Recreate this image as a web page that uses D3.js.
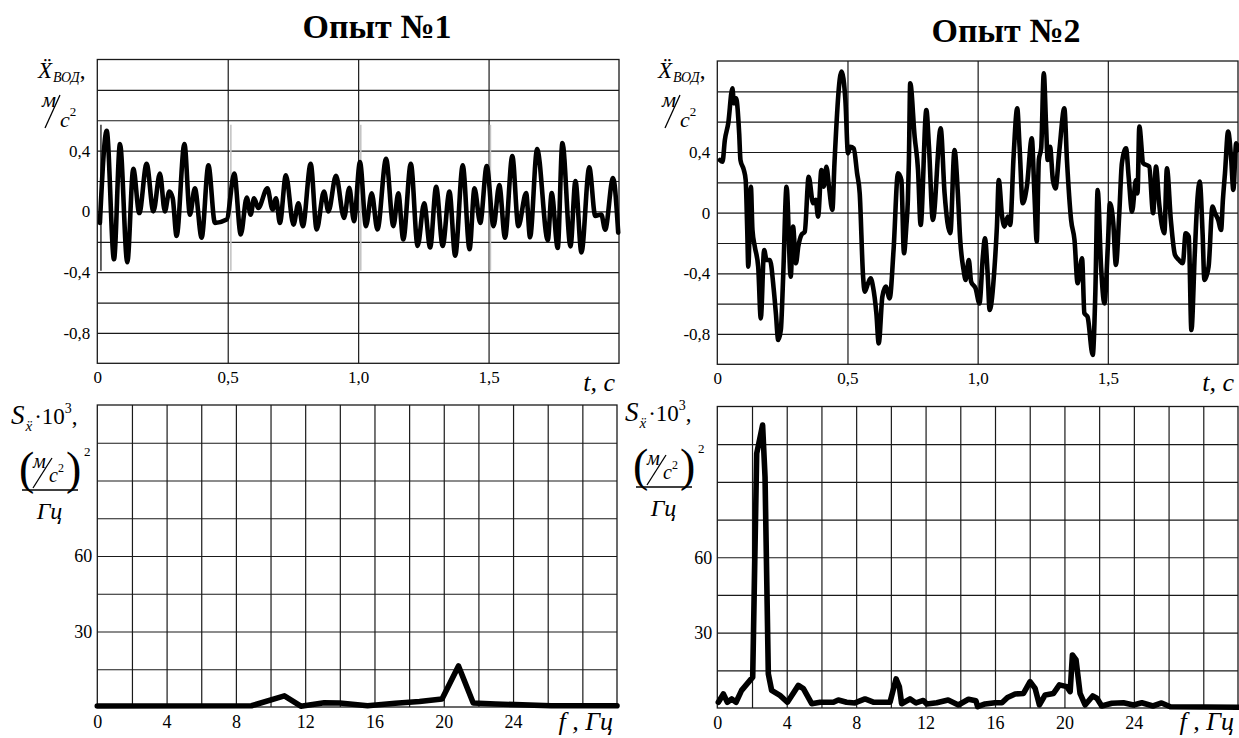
<!DOCTYPE html>
<html>
<head>
    <meta charset="utf-8">
    <title>Опыт №1 / Опыт №2</title>
    <script src="https://cdn.jsdelivr.net/npm/d3@7"></script>
    <style>
        body { margin: 0; background: #fff; }
        svg text { font-family: 'Liberation Serif', 'Times New Roman', serif; fill: #000; }
    </style>
</head>
<body>
<svg width="1239" height="738"></svg>
<script>
// ticks
const timeTicks = [0, 0.5, 1.0, 1.5]
const accelTicks = [0.4, 0, -0.4, -0.8]
const freqTicks = [0, 4, 8, 12, 16, 20, 24]
const specTicks = [60, 30]

// experiment 1, acceleration vs time
const exp1Time = [0.010, 0.036, 0.064, 0.087, 0.115, 0.138, 0.161, 0.189, 0.215, 0.240, 0.259, 0.276, 0.289, 0.304,
    0.334, 0.355, 0.374, 0.400, 0.426, 0.451, 0.496, 0.525, 0.550, 0.573, 0.588, 0.601, 0.617, 0.652, 0.672, 0.685,
    0.700, 0.723, 0.752, 0.771, 0.788, 0.818, 0.841, 0.869, 0.886, 0.915, 0.946, 0.966, 0.984, 1.007, 1.030, 1.052,
    1.074, 1.107, 1.135, 1.154, 1.173, 1.202, 1.228, 1.253, 1.276, 1.299, 1.324, 1.350, 1.372, 1.401, 1.427, 1.446,
    1.468, 1.493, 1.519, 1.541, 1.563, 1.591, 1.614, 1.644, 1.659, 1.686, 1.727, 1.742, 1.765, 1.783, 1.814, 1.833,
    1.856, 1.886, 1.909, 1.932, 1.947, 1.977, 1.997]
const exp1Accel = [-0.076, 0.53, -0.315, 0.444, -0.335, 0.281, -0.011, 0.314, 0.0, 0.249, 0.0, 0.13, 0.087, -0.162,
    0.444, -0.022, 0.152, -0.173, 0.303, -0.076, -0.054, 0.249, -0.152, 0.091, -0.022, 0.087, 0.022, 0.152, 0.011, 0.087,
    -0.076, 0.238, -0.087, 0.054, -0.097, 0.314, -0.119, 0.13, 0.0, 0.234, -0.043, 0.156, -0.065, 0.325, -0.097, 0.119,
    -0.119, 0.346, -0.097, 0.119, -0.184, 0.314, -0.227, 0.054, -0.238, 0.162, -0.227, 0.13, -0.292, 0.303, -0.249, 0.152,
    -0.076, 0.299, -0.097, 0.173, -0.173, 0.364, -0.097, 0.12, -0.17, 0.41, -0.19, 0.12, -0.24, 0.45, -0.23, 0.20,
    -0.27, 0.29, -0.03, -0.02, -0.12, 0.22, -0.14]
// thin marker lines seen on the first record
const exp1MarkTime = [0.014, 0.512, 1.01, 1.507]
const exp1MarkRange = [0.57, -0.39]

// experiment 2, acceleration vs time
const exp2Time = [0.010, 0.020, 0.029, 0.042, 0.058, 0.064, 0.072, 0.084, 0.089, 0.102, 0.109, 0.115, 0.119, 0.129,
    0.135, 0.144, 0.157, 0.167, 0.180, 0.189, 0.202, 0.217, 0.225, 0.234, 0.244, 0.253, 0.266, 0.282, 0.291, 0.302,
    0.311, 0.323, 0.336, 0.351, 0.368, 0.378, 0.387, 0.400, 0.409, 0.419, 0.429, 0.442, 0.450, 0.477, 0.492, 0.502,
    0.511, 0.524, 0.537, 0.547, 0.560, 0.566, 0.579, 0.589, 0.598, 0.611, 0.620, 0.634, 0.647, 0.662, 0.677, 0.694,
    0.707, 0.717, 0.726, 0.732, 0.736, 0.741, 0.758, 0.771, 0.781, 0.803, 0.813, 0.828, 0.858, 0.873, 0.895, 0.911,
    0.924, 0.933, 0.946, 0.954, 0.966, 0.975, 0.992, 1.007, 1.020, 1.028, 1.039, 1.046, 1.065, 1.074, 1.081, 1.094,
    1.103, 1.116, 1.125, 1.138, 1.152, 1.161, 1.173, 1.189, 1.208, 1.218, 1.227, 1.235, 1.244, 1.254, 1.263, 1.269,
    1.278, 1.289, 1.299, 1.314, 1.333, 1.343, 1.359, 1.372, 1.384, 1.401, 1.410, 1.422, 1.442, 1.452, 1.461, 1.474,
    1.487, 1.500, 1.508, 1.521, 1.531, 1.544, 1.554, 1.570, 1.580, 1.593, 1.608, 1.614, 1.621, 1.636, 1.659, 1.674,
    1.685, 1.697, 1.717, 1.727, 1.742, 1.758, 1.773, 1.788, 1.799, 1.811, 1.821, 1.834, 1.844, 1.853, 1.864, 1.871,
    1.887, 1.902, 1.912, 1.924, 1.935, 1.942, 1.950, 1.962, 1.974, 1.982, 1.993, 2.0]
const exp2Accel = [0.347, 0.336, 0.479, 0.589, 0.820, 0.721, 0.754, 0.523, 0.347, 0.281, 0.215, -0.114, -0.356, 0.171,
    -0.114, -0.224, -0.356, -0.697, -0.246, -0.312, -0.312, -0.510, -0.664, -0.840, -0.774, -0.422, 0.171, -0.422, -0.092, -0.334,
    -0.224, -0.147, -0.125, 0.237, 0.062, 0.084, -0.026, 0.281, 0.171, 0.303, 0.171, 0.018, 0.325, 0.930, 0.743, 0.391,
    0.435, 0.424, 0.259, 0.127, -0.422, -0.521, -0.466, -0.433, -0.488, -0.664, -0.862, -0.554, -0.488, -0.565, -0.246, 0.259,
    0.215, -0.268, -0.092, 0.084, 0.347, 0.853, 0.501, 0.281, -0.081, 0.677, 0.435, -0.048, 0.556, 0.127, -0.136, 0.413,
    0.127, -0.180, -0.378, -0.444, -0.312, -0.455, -0.499, -0.598, -0.290, -0.169, -0.422, -0.642, -0.356, -0.092, 0.215, -0.026,
    -0.092, -0.026, -0.081, 0.369, 0.688, 0.435, 0.062, 0.171, 0.490, 0.127, -0.191, 0.347, 0.424, 0.919, 0.567, 0.347,
    0.435, 0.215, 0.160, 0.413, 0.688, 0.347, -0.048, -0.180, -0.466, -0.301, -0.664, -0.686, -0.938, -0.532, 0.149, -0.356,
    -0.598, -0.224, 0.062, -0.070, -0.345, -0.004, 0.325, 0.424, 0.237, 0.007, 0.215, 0.127, 0.567, 0.326, 0.304, -0.004,
    0.304, 0.062, -0.136, 0.293, -0.048, -0.279, -0.312, -0.334, -0.136, -0.158, -0.774, -0.268, 0.084, 0.205, -0.136, -0.444,
    -0.356, 0.04, -0.004, -0.048, -0.114, 0.084, 0.26, 0.535, 0.348, 0.15, 0.458, 0.414]

// spectral density, experiment 1
const exp1Freq = [0, 8.9, 10.8, 11.75, 13.1, 14.0, 15.6, 17.2, 18.6, 19.9, 20.85, 21.7, 23.0, 26.2, 30]
const exp1Spec = [0.4, 0.5, 4.4, 0.3, 1.7, 1.6, 0.5, 1.5, 2.2, 3.2, 16.3, 1.6, 1.2, 0.5, 0.5]

// spectral density, experiment 2
const exp2Freq = [0.06, 0.35, 0.58, 0.83, 1.08, 1.4, 2.04, 2.27, 2.61, 2.75, 2.94, 3.13, 3.61, 4.04, 4.67, 4.96, 5.44,
    5.92, 6.69, 6.97, 7.45, 7.93, 8.51, 8.99, 9.95, 10.3, 10.49, 10.62, 11.1, 11.45, 11.87, 12.07, 12.64, 13.3, 13.89,
    14.47, 14.9, 15.0, 15.43, 16.0, 16.4, 16.72, 17.16, 17.64, 18.02, 18.31, 18.56, 18.89, 19.37, 19.71, 20.14, 20.33,
    20.46, 20.67, 20.9, 21.19, 21.63, 21.87, 22.15, 22.73, 23.4, 23.98, 24.46, 25.1, 25.6, 26.1, 30]
const exp2Spec = [2.3, 5.6, 2.3, 3.6, 2.3, 7.0, 12.3, 101.3, 112.6, 92.0, 13.6, 7.0, 5.0, 2.3, 9.0, 7.7, 1.7,
    2.3, 2.3, 3.2, 2.3, 2.0, 3.6, 2.3, 2.3, 11.6, 8.4, 1.7, 3.6, 2.0, 3.0, 1.6, 2.1, 3.2, 1.2,
    3.5, 2.9, 0.5, 1.6, 2.1, 2.1, 4.2, 5.6, 5.8, 10.5, 7.8, 1.2, 5.2, 5.8, 9.2, 8.5, 6.5,
    21.1, 19.1, 5.8, 1.2, 4.8, 3.9, 0.8, 1.9, 2.1, 1.2, 2.1, 0.8, 2.0, 0.5, 0.3]

const titles = ['Опыт №1', 'Опыт №2']

const serif = "'Liberation Serif', 'Times New Roman', serif"
const svg = d3.select('svg')
const commaFmt = d => d === 0 ? '0' : d3.format('.1f')(d).replace('.', ',').replace('\u2212', '-')

function drawPanel(o) {
    const xScale = d3.scaleLinear().domain(o.xDomain).range([o.left, o.right])
    const yScale = d3.scaleLinear().domain(o.yDomain).range([o.bottom, o.top])
    const g = svg.append('g')
    const innerH = o.bottom - o.top
    const innerW = o.right - o.left

    g.append('g')
        .attr('transform', `translate(0, ${o.bottom})`)
        .call(d3.axisBottom(xScale).tickValues(o.xGrid).tickSize(-innerH).tickFormat(''))
    g.append('g')
        .attr('transform', `translate(${o.left}, 0)`)
        .call(d3.axisLeft(yScale).tickValues(o.yGrid).tickSize(-innerW).tickFormat(''))
    g.selectAll('.domain').remove()
    g.selectAll('.tick line').attr('stroke', '#1a1a1a').attr('stroke-width', 1.2)

    g.append('rect')
        .attr('x', o.left).attr('y', o.top)
        .attr('width', innerW).attr('height', innerH)
        .attr('fill', 'none').attr('stroke', '#1a1a1a').attr('stroke-width', 1.3)

    if (o.marks) {
        g.selectAll('line.mark')
            .data(o.marks)
            .join('line')
            .attr('class', 'mark')
            .attr('x1', d => xScale(d)).attr('x2', d => xScale(d))
            .attr('y1', yScale(o.markRange[0])).attr('y2', yScale(o.markRange[1]))
            .attr('stroke', (d, i) => i === 0 ? '#111' : '#c4c4c4')
            .attr('stroke-width', (d, i) => i === 0 ? 1.3 : 1.6)
    }

    const line = d3.line()
        .x(d => xScale(d[0]))
        .y(d => yScale(d[1]))
        .curve(o.curve)
    g.append('path')
        .datum(d3.zip(o.xs, o.ys))
        .attr('d', line)
        .attr('fill', 'none')
        .attr('stroke', '#000')
        .attr('stroke-width', o.strokeW)
        .attr('stroke-linejoin', 'round')
        .attr('stroke-linecap', 'round')

    const xLab = g.append('g')
        .attr('transform', `translate(0, ${o.bottom})`)
        .call(d3.axisBottom(xScale).tickValues(o.xTicks).tickSize(0).tickPadding(o.xPad).tickFormat(o.fmt))
    const yLab = g.append('g')
        .attr('transform', `translate(${o.left}, 0)`)
        .call(d3.axisLeft(yScale).tickValues(o.yTicks).tickSize(0).tickPadding(o.yPad).tickFormat(o.yFmt))
    for (const lab of [xLab, yLab]) {
        lab.select('.domain').remove()
        lab.attr('font-family', serif).attr('font-size', o.fontSize)
        lab.selectAll('text')
            .style('font-family', serif)
            .style('font-size', o.fontSize + 'px')
    }

    g.append('text')
        .attr('x', o.right - 4)
        .attr('y', o.unitY)
        .attr('text-anchor', 'end')
        .attr('font-style', 'italic')
        .attr('font-size', 26)
        .text(o.unit)
    return g
}

const tGrid = [0.5, 1.0, 1.5]
const aGrid = d3.range(-0.8, 0.81, 0.2)
const fGrid = d3.range(2, 30, 2)
const sGrid = d3.range(15, 120, 15)

const topPanels = [
    {left: 97.3, right: 619, top: 59.5, bottom: 363.3, xs: exp1Time, ys: exp1Accel, marks: exp1MarkTime},
    {left: 717.3, right: 1238, top: 61, bottom: 364.3, xs: exp2Time, ys: exp2Accel}
]
topPanels.forEach(p => drawPanel(Object.assign({
    xDomain: [0, 2], yDomain: [-1, 1], xGrid: tGrid, yGrid: aGrid,
    xTicks: timeTicks, yTicks: accelTicks, fmt: commaFmt, yFmt: commaFmt,
    xPad: 8, yPad: 7, fontSize: 17, strokeW: 4.6, curve: d3.curveMonotoneX,
    markRange: exp1MarkRange, unit: 't, c', unitY: 391
}, p)))

const bottomPanels = [
    {left: 97.3, right: 617, top: 405, bottom: 707, xs: exp1Freq, ys: exp1Spec},
    {left: 717.3, right: 1238, top: 406.5, bottom: 708, xs: exp2Freq, ys: exp2Spec}
]
bottomPanels.forEach(p => drawPanel(Object.assign({
    xDomain: [0, 30], yDomain: [0, 120], xGrid: fGrid, yGrid: sGrid,
    xTicks: freqTicks, yTicks: specTicks, fmt: d3.format('d'), yFmt: d3.format('d'),
    xPad: 8, yPad: 5, fontSize: 18, strokeW: 5.6, curve: d3.curveLinear,
    unit: 'f , Гц', unitY: 730
}, p)))

// titles
svg.selectAll('text.title')
    .data(titles)
    .join('text')
    .attr('class', 'title')
    .attr('x', (d, i) => i === 0 ? 377 : 1006)
    .attr('y', (d, i) => i === 0 ? 38 : 41.5)
    .attr('text-anchor', 'middle')
    .attr('font-weight', 'bold')
    .attr('font-size', 34)
    .text(d => d)

// y-axis label of the acceleration plots
function accelLabel(ox) {
    const g = svg.append('g').attr('transform', `translate(${ox}, 0)`)
    const t = g.append('text').attr('x', 38).attr('y', 78).attr('font-style', 'italic')
    t.append('tspan').attr('font-size', 23).text('X\u0308')
    t.append('tspan').attr('font-size', 14).attr('dy', 4).attr('dx', 1).text('ВОД')
    t.append('tspan').attr('font-size', 23).attr('dy', -4).attr('font-style', 'normal').text(',')
    g.append('text').attr('x', 42).attr('y', 107).attr('font-style', 'italic').attr('font-size', 22).text('м')
    g.append('line').attr('x1', 45).attr('y1', 128).attr('x2', 60).attr('y2', 95)
        .attr('stroke', '#000').attr('stroke-width', 1.3)
    const c = g.append('text').attr('x', 60).attr('y', 127).attr('font-style', 'italic').attr('font-size', 22)
    c.append('tspan').text('с')
    c.append('tspan').attr('font-size', 13).attr('font-style', 'normal').attr('dy', -11).text('2')
}
accelLabel(0)
accelLabel(620)

// y-axis label of the spectrum plots
function specLabel(ox, oy) {
    const g = svg.append('g').attr('transform', `translate(${ox}, ${oy})`)
    const t = g.append('text').attr('x', 11).attr('y', 424)
    t.append('tspan').attr('font-style', 'italic').attr('font-size', 27).text('S')
    t.append('tspan').attr('font-style', 'italic').attr('font-size', 15).attr('dy', 7).attr('dx', 1).text('x\u0308')
    t.append('tspan').attr('font-size', 23).attr('dy', -7).attr('dx', 2).text('·10')
    t.append('tspan').attr('font-size', 14).attr('dy', -11).text('3')
    t.append('tspan').attr('font-size', 23).attr('dy', 11).text(',')
    g.append('text').attr('x', 19).attr('y', 484).attr('font-size', 46).text('(')
    g.append('text').attr('x', 66).attr('y', 484).attr('font-size', 46).text(')')
    g.append('text').attr('x', 84).attr('y', 456).attr('font-size', 13).text('2')
    g.append('text').attr('x', 33).attr('y', 468).attr('font-style', 'italic').attr('font-size', 20).text('м')
    g.append('line').attr('x1', 33).attr('y1', 488).attr('x2', 52).attr('y2', 458)
        .attr('stroke', '#000').attr('stroke-width', 1.3)
    const c = g.append('text').attr('x', 49).attr('y', 482).attr('font-style', 'italic').attr('font-size', 20)
    c.append('tspan').text('с')
    c.append('tspan').attr('font-size', 12).attr('font-style', 'normal').attr('dy', -10).text('2')
    g.append('line').attr('x1', 22).attr('y1', 490).attr('x2', 78).attr('y2', 490)
        .attr('stroke', '#000').attr('stroke-width', 1.3)
    g.append('text').attr('x', 49.5).attr('y', 519).attr('text-anchor', 'middle')
        .attr('font-style', 'italic').attr('font-size', 24).text('Гц')
}
specLabel(0, 0)
specLabel(614, -3)
</script>
</body>
</html>
